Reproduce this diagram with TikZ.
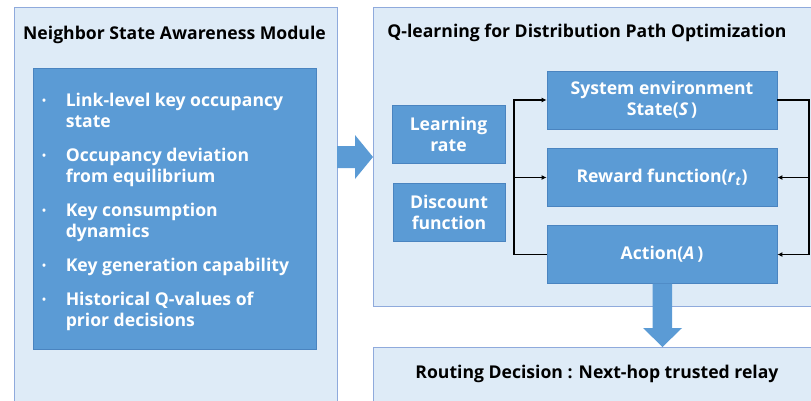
\documentclass[tikz,border=0pt]{standalone}
\usepackage{fontspec}
\setmainfont{Open Sans}
\usetikzlibrary{arrows.meta}

\definecolor{panelfill}{HTML}{DEEBF7}
\definecolor{paneldraw}{HTML}{8FAADC}
\definecolor{boxfill}{HTML}{5B9BD5}
\definecolor{boxdraw}{HTML}{4A84C0}

\newcommand{\dotitem}{\raisebox{0.2ex}{\scalebox{0.6}{\textbullet}}}

\tikzset{
	panel/.style = {draw = paneldraw, fill = panelfill, line width = 1pt},
	title/.style = {font = \bfseries\fontsize{17.6}{21}\selectfont, text = black},
	block/.style = {draw = boxdraw, fill = boxfill, line width = 0.8pt, text = white,
		font = \bfseries\fontsize{17.6}{21}\selectfont, align = center, inner sep = 0pt},
	link/.style = {draw = black, line width = 1.4pt, -{Latex[length = 5pt, width = 5pt]}},
	bigarrow/.style = {fill = boxfill}
}

\begin{document}
\begin{tikzpicture}[x = 1pt, y = -1pt]

	% Page size

	\useasboundingbox (0, 0) rectangle (811, 400);
	\clip (0, 0) rectangle (811, 400);

	% Panels

	\draw [panel] (14, 7) rectangle (337, 420);
	\draw [panel] (373, 7) rectangle (830, 306);
	\draw [panel] (373, 347) rectangle (830, 420);

	\node [title] (ltitle) at (174.5, 35) {Neighbor State Awareness Module};
	\node [title] (rtitle) at (587, 33) {Q-learning for Distribution Path Optimization};
	\node [title] (route) at (597, 374) {Routing Decision : Next-hop trusted relay};

	% Neighbor state features

	\node [block, minimum width = 283, minimum height = 281] (feat) at (174.5, 208.5) {};
	\node [anchor = north west, text = white, inner sep = 0pt,
		font = \bfseries\fontsize{17.6}{21}\selectfont] (list) at (42, 92)
	{%
		\begin{tabular}{@{}l@{\hspace{19.6pt}}l@{}}
			\dotitem & Link-level key occupancy \\
			         & state \\[13pt]
			\dotitem & Occupancy deviation \\
			         & from equilibrium \\[13pt]
			\dotitem & Key consumption \\
			         & dynamics \\[13pt]
			\dotitem & Key generation capability \\[13pt]
			\dotitem & Historical Q-values of \\
			         & prior decisions
		\end{tabular}%
	};

	% Q-learning blocks

	\node [block, minimum width = 113, minimum height = 58] (lrate) at (448.5, 134) {Learning\\rate};
	\node [block, minimum width = 112, minimum height = 58] (disc) at (449, 212) {Discount\\function};

	\node [block, minimum width = 230, minimum height = 58] (sys) at (662, 100) {System environment\\State(\textit{S}\,)};
	\node [block, minimum width = 230, minimum height = 58] (rew) at (662, 177.5) {Reward function(\textit{r}\textsubscript{\textit{t}})};
	\node [block, minimum width = 230, minimum height = 58] (act) at (662, 254.5) {Action(\textit{A}\,)};

	% Feedback loop

	\coordinate (lbus) at (514, 254.5);
	\coordinate (rbus) at (809, 100);

	\draw [link] (act.west) -- (lbus) |- (sys.west);
	\draw [link] (lbus |- rew) -- (rew.west);
	\draw [link] (sys.east) -- (rbus) |- (act.east);
	\draw [link] (rbus |- rew) -- (rew.east);

	% Block arrows

	\fill [bigarrow] (337, 146) -- (355, 146) -- (355, 135) -- (373, 157)
		-- (355, 179) -- (355, 168) -- (337, 168) -- cycle;

	\fill [bigarrow] (652.5, 283.5) -- (652.5, 328) -- (643, 328) -- (662.5, 347)
		-- (682, 328) -- (672, 328) -- (672, 283.5) -- cycle;

\end{tikzpicture}
\end{document}
